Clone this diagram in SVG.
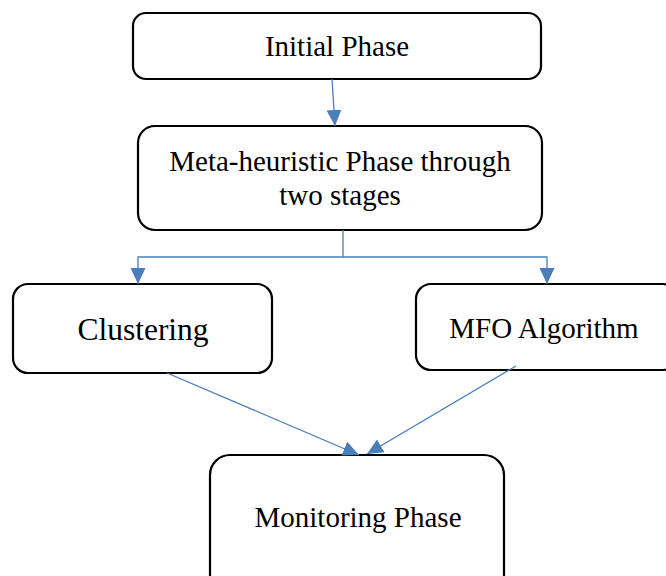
<svg xmlns="http://www.w3.org/2000/svg" width="666" height="576" viewBox="0 0 666 576">
<style>
.box{fill:#fff;stroke:#000;stroke-width:2.2}
.t{font-family:"Liberation Serif","Times New Roman",serif;font-size:29px;fill:#000;text-anchor:middle}
.c{fill:none;stroke:#4A7EBB;stroke-width:1.3}
</style>
<defs>
<marker id="ah" markerUnits="userSpaceOnUse" markerWidth="17" markerHeight="17" viewBox="0 0 17 17" refX="16" refY="8.5" orient="auto">
<path d="M0,1 L16,8.5 L0,16 Z" fill="#4A7EBB"/>
</marker>
</defs>
<g id="n1"><rect class="box" x="133" y="13" width="408" height="66" rx="13"/><text class="t" x="337" y="56">Initial Phase</text></g>
<g id="n2"><rect class="box" x="138" y="126" width="404" height="104" rx="17"/><text class="t" x="340" y="171">Meta-heuristic Phase through</text><text class="t" x="340" y="205">two stages</text></g>
<g id="n3"><rect class="box" x="13" y="284" width="259" height="89" rx="15"/><text class="t" x="143" y="340" style="font-size:31.5px">Clustering</text></g>
<g id="n4"><rect class="box" x="416" y="284" width="262" height="86" rx="15"/><text class="t" x="544" y="338">MFO Algorithm</text></g>
<g id="n5"><rect class="box" x="210" y="455" width="294" height="140" rx="20"/><text class="t" x="358" y="527">Monitoring Phase</text></g>
<g id="connectors">
<path class="c" d="M332,79 L335,126" marker-end="url(#ah)"/>
<path class="c" d="M343,230 V257 H138 V284" marker-end="url(#ah)"/>
<path class="c" d="M343,257 H547 V284" marker-end="url(#ah)"/>
<path class="c" d="M167,373 L359,455" marker-end="url(#ah)"/>
<path class="c" d="M516,366 L367,454" marker-end="url(#ah)"/>
</g>
</svg>
